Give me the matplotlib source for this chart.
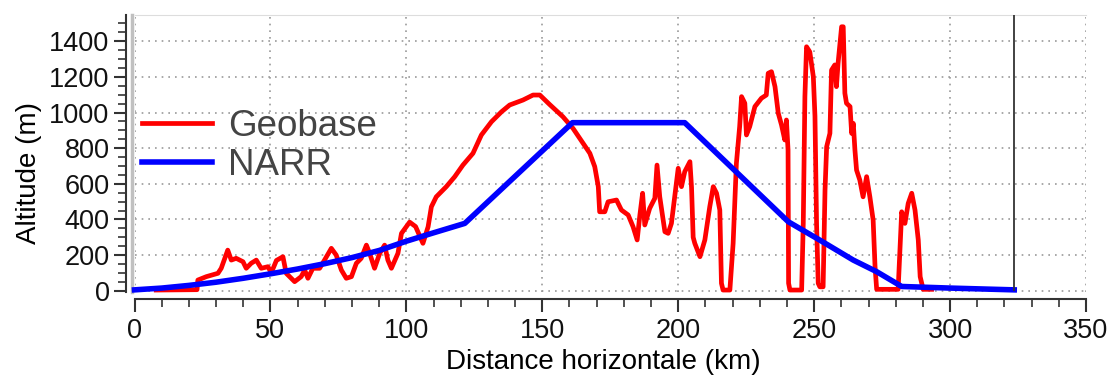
import matplotlib
matplotlib.use("Agg")
import matplotlib.pyplot as plt
from matplotlib.ticker import MultipleLocator

plt.rcParams["font.family"] = ["Liberation Sans", "DejaVu Sans"]

# Profil Geobase (km, m)
geo_km = [8, 15, 23, 23.3, 26.4, 30.7, 31.9, 34.3, 35.6, 37.4, 39.9, 41.1, 42.9, 44.8,
          46.6, 49.1, 50.3, 52.2, 54.6, 55.8, 58.9, 61.3, 62.6, 63.8, 65.6, 68.1, 69.9,
          72.4, 74.2, 76.1, 77.9, 79.8, 81.6, 83.4, 85.3, 86.5, 88.3, 90.2, 92.0, 93.2,
          94.5, 96.9, 98.2, 101.2, 103.4, 106.1, 108.0, 109.2, 111.0, 114.7, 117.8,
          120.8, 124.5, 127.6, 131.3, 135.0, 138.0, 142.9, 146.6, 149.1, 152.7, 157.6,
          161.3, 165.0, 167.5, 169.3, 170.6, 171.1, 173.0, 174.2, 177.3, 179.1, 181.6,
          183.4, 184.9, 185.9, 186.9, 187.7, 189.5, 191.4, 192.2, 193.2, 195.1, 196.3,
          197.5, 198.7, 200.0, 201.2, 202.4, 204.3, 204.9, 205.5, 206.1, 208.0, 209.8,
          211.6, 212.9, 214.1, 215.3, 215.9, 216.5, 219.0, 220.2, 221.4, 222.6, 223.3,
          224.5, 225.1, 226.3, 228.2, 230.6, 232.4, 233.1, 234.3, 235.6, 236.8, 238.0,
          239.2, 239.8, 240.4, 240.6, 241.1, 245.4, 246.0, 246.6, 247.2, 248.4, 249.7,
          250.3, 250.9, 251.5, 252.1, 253.3, 254.0, 254.6, 255.8, 256.4, 257.6, 258.2,
          258.8, 260.1, 260.7, 261.3, 261.9, 263.2, 263.8, 264.4, 265.0, 265.6, 266.8,
          268.0, 269.3, 270.5, 271.7, 272.4, 273.0, 280.9, 281.6, 282.2, 283.4, 284.6,
          285.9, 287.1, 288.3, 289.0, 290.1, 293.2]
geo_alt = [4, 5, 6, 60, 79, 98, 126, 228, 172, 182, 163, 126, 154, 172,
           126, 135, 100, 170, 191, 98, 51, 79, 116, 70, 126, 126, 172,
           238, 200, 116, 70, 79, 154, 182, 256, 210, 126, 210, 256, 172,
           126, 210, 322, 385, 360, 266, 359, 471, 527, 584, 640,
           705, 771, 874, 948, 1004, 1042, 1070, 1098, 1098, 1045, 976,
           911, 827, 771, 696, 584, 443, 443, 499, 509, 453, 425,
           359, 285, 425, 547, 369, 462, 519, 705, 528, 331, 322,
           378, 528, 687, 584, 668, 724, 580, 300, 266, 191, 285,
           471, 584, 547, 453, 42, 4, 4, 266, 715, 921, 1089,
           1052, 874, 921, 1033, 1080, 1098, 1220, 1229, 1145, 996, 930,
           846, 958, 790, 42, 4, 4, 378, 1089, 1369, 1340, 1201,
           980, 370, 42, 22, 22, 565, 808, 883, 1238, 1267, 1145,
           1276, 1481, 1481, 1108, 1052, 1033, 883, 939, 790, 677, 621,
           527, 640, 527, 397, 135, 8, 8, 247, 443, 378, 490,
           547, 453, 285, 79, 8, 8]

# Profil NARR (km, m)
narr_km = [0, 10, 20, 30, 40, 50, 60, 70, 80, 90, 100, 110, 121.5, 161.1, 202.4,
           240.5, 252.1, 264.4, 273.0, 282.2, 300, 323.6]
narr_alt = [5, 15, 30, 48, 70, 95, 122, 152, 186, 226, 278, 325, 378, 943, 943,
            387, 284, 172, 107, 24, 15, 5]

limite_km = 323.6

W, H = 1111, 376
fig = plt.figure(figsize=(W / 100, H / 100), dpi=100)
ax = fig.add_axes([134.5 / W, 1 - 292 / H, (1086 - 134.5) / W, (292 - 15) / H])

ax.set_xlim(0, 350)
ax.set_ylim(-7, 1547)

ax.plot(geo_km, geo_alt, color="#ff0000", lw=3.4, label="Geobase", zorder=3, clip_on=False)
ax.plot(narr_km, narr_alt, color="#0000ff", lw=4.0, label="NARR", zorder=4, clip_on=False)
ax.vlines(limite_km, 0, 1547, color="#333333", lw=1.3, zorder=5)

# axes detachees, facon logiciel de trace
ax.spines["right"].set_visible(False)
ax.spines["top"].set_color("#dddddd")
ax.spines["left"].set_position(("outward", 6))
ax.spines["bottom"].set_position(("outward", 5))
for s in ("left", "bottom"):
    ax.spines[s].set_color("#333333")
    ax.spines[s].set_linewidth(1.5)
ax.plot([-0.003, -0.003], [0, 1], transform=ax.transAxes, color="#c0c0c0", lw=2.5, clip_on=False)

ax.xaxis.set_major_locator(MultipleLocator(50))
ax.xaxis.set_minor_locator(MultipleLocator(10))
ax.yaxis.set_minor_locator(MultipleLocator(50))
ax.set_yticks(range(0, 1401, 200))
ax.set_xticks(range(0, 351, 50))
ax.tick_params(which="major", length=9, width=1.5, color="#333333", labelsize=19.5, labelcolor="#111111")
ax.tick_params(which="minor", length=5.5, width=1.2, color="#333333")
ax.tick_params(axis="x", which="major", pad=5)
ax.tick_params(axis="y", which="major", pad=3)

ax.grid(True, which="major", color="#999999", lw=1.2, linestyle=(0, (1, 3)))

ax.set_xlabel("Distance horizontale (km)", fontsize=20)
ax.set_ylabel("Altitude (m)", fontsize=20)
ax.xaxis.set_label_coords(0.493, -0.205)
ax.yaxis.set_label_coords(-0.097, 0.43)

leg = ax.legend(loc="center left", bbox_to_anchor=(0.008, 0.528), frameon=False,
                fontsize=26.5, handlelength=1.9, handletextpad=0.43, labelspacing=0.1,
                borderpad=0, borderaxespad=0)
for t in leg.get_texts():
    t.set_color("#444444")

fig.savefig("out.png", dpi=100)
